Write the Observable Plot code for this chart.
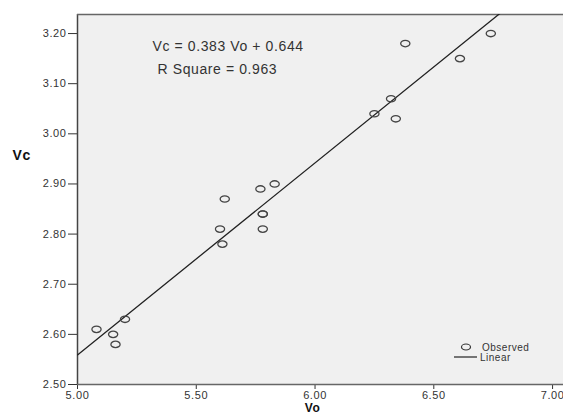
<!DOCTYPE html>
<html>
<head>
<meta charset="utf-8">
<script src="https://cdn.jsdelivr.net/npm/d3@7"></script>
<script src="https://cdn.jsdelivr.net/npm/@observablehq/plot@0.6"></script>
<style>
  html, body { margin: 0; padding: 0; background: #fff; }
  svg { display: block; }
</style>
</head>
<body>
<div id="chart"></div>
<script>
const vo = [5.08, 5.15, 5.16, 5.20, 5.60, 5.61, 5.62, 5.77, 5.78, 5.78, 5.78, 5.83, 6.25, 6.32, 6.34, 6.38, 6.61, 6.74];
const vc = [2.61, 2.60, 2.58, 2.63, 2.81, 2.78, 2.87, 2.89, 2.84, 2.84, 2.81, 2.90, 3.04, 3.07, 3.03, 3.18, 3.15, 3.20];
// Linear fit
const slope = 0.383;
const intercept = 0.644;
const rSquare = 0.963;
// Axis ticks
const xTicks = [5.00, 5.50, 6.00, 6.50, 7.00];
const yTicks = [2.50, 2.60, 2.70, 2.80, 2.90, 3.00, 3.10, 3.20];
const xDomain = [5.0, 7.046];
const yDomain = [2.5, 3.238];
const legendLabels = ["Observed", "Linear"];

const points = vo.map((x, i) => ({x, y: vc[i]}));
const fit = xDomain.map(x => ({x, y: slope * x + intercept}));

const font = "Liberation Sans, Arial, sans-serif";

const legend = (index, scales, values, dims, context) => {
  const doc = context.document;
  const ns = "http://www.w3.org/2000/svg";
  const g = doc.createElementNS(ns, "g");
  const right = dims.width - dims.marginRight;
  const bottom = dims.height - dims.marginBottom;
  const cx = right - 97, cy = bottom - 37;
  const c = doc.createElementNS(ns, "ellipse");
  c.setAttribute("cx", cx); c.setAttribute("cy", cy);
  c.setAttribute("rx", 4.5); c.setAttribute("ry", 3);
  c.setAttribute("fill", "none"); c.setAttribute("stroke", "#333"); c.setAttribute("stroke-width", 1.2);
  g.appendChild(c);
  const l = doc.createElementNS(ns, "line");
  l.setAttribute("x1", right - 109); l.setAttribute("x2", right - 86);
  l.setAttribute("y1", cy + 10); l.setAttribute("y2", cy + 10);
  l.setAttribute("stroke", "#222"); l.setAttribute("stroke-width", 1.2);
  g.appendChild(l);
  [[legendLabels[0], right - 81, cy], [legendLabels[1], right - 83, cy + 10]].forEach(([t, x, y]) => {
    const tx = doc.createElementNS(ns, "text");
    tx.setAttribute("x", x); tx.setAttribute("y", y);
    tx.setAttribute("dy", "0.35em");
    tx.setAttribute("text-anchor", "start");
    tx.setAttribute("font-size", 10);
    tx.setAttribute("font-family", font);
    tx.setAttribute("letter-spacing", "0.5");
    tx.setAttribute("fill", "#333");
    tx.textContent = t;
    g.appendChild(tx);
  });
  return g;
};

// Ellipse-like symbol for observed points (slightly wide)
const ellipseSymbol = {
  draw(ctx, size) {
    const rx = 4.6, ry = 3.2, k = 0.5523;
    ctx.moveTo(rx, 0);
    ctx.bezierCurveTo(rx, ry * k, rx * k, ry, 0, ry);
    ctx.bezierCurveTo(-rx * k, ry, -rx, ry * k, -rx, 0);
    ctx.bezierCurveTo(-rx, -ry * k, -rx * k, -ry, 0, -ry);
    ctx.bezierCurveTo(rx * k, -ry, rx, -ry * k, rx, 0);
    ctx.closePath();
  }
};

const chart = Plot.plot({
  width: 563,
  height: 414,
  marginLeft: 77,
  marginRight: 0,
  marginTop: 14,
  marginBottom: 30,
  style: {fontFamily: font, fontSize: "11px", color: "#333", background: "#fff", letterSpacing: "0.6px"},
  x: {domain: xDomain, ticks: xTicks, tickFormat: d3.format(".2f"), tickSize: 5, tickPadding: 2, label: null},
  y: {domain: yDomain, ticks: yTicks, tickFormat: d3.format(".2f"), tickSize: 9, tickPadding: 2, label: null},
  marks: [
    Plot.frame({fill: "#f0f0f0", stroke: "none"}),
    Plot.ruleX([xDomain[0]], {stroke: "#444", strokeWidth: 1.5}),
    Plot.ruleY([yDomain[0], yDomain[1]], {stroke: "#666", strokeWidth: 1.5}),
    Plot.line(fit, {x: "x", y: "y", stroke: "#222", strokeWidth: 1.3, clip: true}),
    Plot.dot(points, {x: "x", y: "y", symbol: ellipseSymbol, r: 4, stroke: "#444", strokeWidth: 1.3, fill: "none"}),
    Plot.text([`Vc = ${slope.toFixed(3)} Vo + ${intercept.toFixed(3)}`], {frameAnchor: "top-left", dx: 75, dy: 32, textAnchor: "start", fontSize: 14, fill: "#333", text: d => d, lineAnchor: "middle", letterSpacing: "1.3"}),
    Plot.text([`R Square = ${rSquare.toFixed(3)}`], {frameAnchor: "top-left", dx: 80, dy: 55, textAnchor: "start", fontSize: 14, fill: "#333", text: d => d, lineAnchor: "middle", letterSpacing: "1.3"}),
    Plot.text(["Vc"], {frameAnchor: "left", dx: -65, dy: -44, textAnchor: "start", fontSize: 14, fontWeight: "bold", fill: "#111", text: d => d, letterSpacing: "3", clip: false}),
    Plot.text(["Vo"], {frameAnchor: "bottom", dx: -8, dy: 19, lineAnchor: "top", fontSize: 12, fontWeight: "bold", fill: "#111", text: d => d, letterSpacing: "1.5", clip: false}),
    legend
  ]
});

document.getElementById("chart").appendChild(chart);
</script>
</body>
</html>
